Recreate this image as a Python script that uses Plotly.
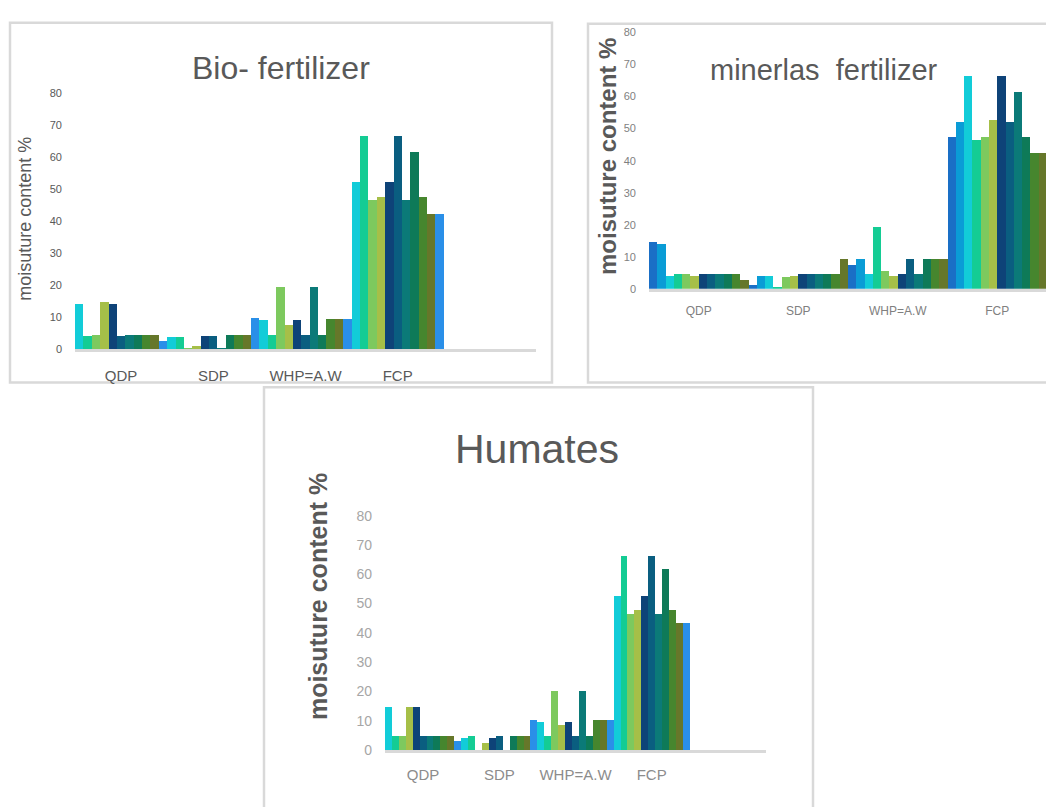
import plotly.graph_objects as go

W, H = 1046, 807

categories = ["QDP", "SDP", "WHP=A.W", "FCP"]

# ---- Bio- fertilizer (11 series) ----
bio_colors = ["#12CCD8", "#14CC94", "#7DC95E", "#A6BF48", "#0E4378", "#0A5E80",
              "#0B7A78", "#0E7A58", "#46862E", "#66772A", "#2A8FE8"]
bio_s1 = [14.4, 4.1, 9.3, 52.4]
bio_s2 = [4.3, 4.1, 4.7, 67.0]
bio_s3 = [4.7, 0.5, 19.8, 46.8]
bio_s4 = [14.9, 1.3, 7.8, 47.8]
bio_s5 = [14.4, 4.2, 9.3, 52.4]
bio_s6 = [4.3, 4.2, 4.7, 67.0]
bio_s7 = [4.7, 0.5, 19.8, 46.8]
bio_s8 = [4.7, 4.7, 4.7, 62.0]
bio_s9 = [4.7, 4.7, 9.6, 47.8]
bio_s10 = [4.7, 4.7, 9.6, 42.6]
bio_s11 = [2.9, 10.0, 9.6, 42.6]
bio_series = [bio_s1, bio_s2, bio_s3, bio_s4, bio_s5, bio_s6, bio_s7, bio_s8, bio_s9, bio_s10, bio_s11]

# ---- minerlas fertilizer (12 series) ----
min_colors = ["#1A6FC6", "#0A9CD6", "#12CCD8", "#14CC94", "#7DC95E", "#A6BF48",
              "#0E4378", "#0A5E80", "#0B7A78", "#0E7A58", "#46862E", "#66772A"]
min_s1 = [14.8, 1.5, 7.5, 47.4]
min_s2 = [14.3, 4.3, 9.6, 52.2]
min_s3 = [4.3, 4.3, 4.7, 66.5]
min_s4 = [4.7, 0.7, 19.4, 46.6]
min_s5 = [4.7, 3.8, 5.6, 47.4]
min_s6 = [4.3, 4.3, 4.3, 52.7]
min_s7 = [4.7, 4.7, 4.7, 66.5]
min_s8 = [4.7, 4.7, 9.6, 52.2]
min_s9 = [4.7, 4.7, 4.7, 61.7]
min_s10 = [4.7, 4.7, 9.6, 47.4]
min_s11 = [4.7, 4.7, 9.6, 42.7]
min_s12 = [2.8, 9.6, 9.6, 42.7]
min_series = [min_s1, min_s2, min_s3, min_s4, min_s5, min_s6, min_s7, min_s8,
              min_s9, min_s10, min_s11, min_s12]

# ---- Humates (11 series) ----
hum_colors = bio_colors
hum_s1 = [14.9, 4.3, 9.8, 52.7]
hum_s2 = [5.0, 5.0, 5.0, 66.5]
hum_s3 = [5.0, 0.0, 20.2, 46.7]
hum_s4 = [14.9, 2.4, 8.5, 48.0]
hum_s5 = [14.9, 4.3, 9.8, 52.7]
hum_s6 = [5.0, 5.0, 5.0, 66.5]
hum_s7 = [5.0, 0.0, 20.2, 46.7]
hum_s8 = [5.0, 5.0, 5.0, 62.0]
hum_s9 = [5.0, 5.0, 10.4, 48.0]
hum_s10 = [5.0, 5.0, 10.4, 43.6]
hum_s11 = [3.0, 10.4, 10.4, 43.6]
hum_series = [hum_s1, hum_s2, hum_s3, hum_s4, hum_s5, hum_s6, hum_s7, hum_s8,
              hum_s9, hum_s10, hum_s11]

y_ticks = [0, 10, 20, 30, 40, 50, 60, 70, 80]
FONT = "Liberation Sans, Arial, sans-serif"

fig = go.Figure()

def add_panel(series, colors, axis_suffix, prefix):
    for i, (vals, col) in enumerate(zip(series, colors)):
        fig.add_trace(go.Bar(
            x=categories, y=vals, name=f"{prefix} {i + 1}",
            marker=dict(color=col, line=dict(width=0)),
            xaxis="x" + axis_suffix, yaxis="y" + axis_suffix,
            showlegend=False,
        ))

add_panel(bio_series, bio_colors, "", "Bio")
add_panel(min_series, min_colors, "2", "Mineral")
add_panel(hum_series, hum_colors, "3", "Humates")

def px_x(v):
    return v / W

def px_y(v):
    return 1 - v / H

def xaxis_cfg(x0, x1, rng, fsize, fcolor, standoff):
    return dict(domain=[px_x(x0), px_x(x1)], range=rng, type="category",
                categoryorder="array", categoryarray=categories,
                showline=True, linecolor="#D9D9D9", linewidth=3,
                showgrid=False, zeroline=False, ticks="", fixedrange=True,
                tickfont=dict(family=FONT, size=fsize, color=fcolor),
                ticklabelstandoff=standoff)

def yaxis_cfg(y0px, y80px, anchor, fsize, fcolor, standoff):
    return dict(domain=[px_y(y0px), px_y(y80px)], range=[0, 80],
                tickvals=y_ticks, showgrid=False, zeroline=False, showline=False,
                ticks="", anchor=anchor, fixedrange=True,
                tickfont=dict(family=FONT, size=fsize, color=fcolor),
                ticklabelstandoff=standoff)

layout = dict(
    width=W, height=H,
    margin=dict(l=0, r=0, t=0, b=0),
    paper_bgcolor="white", plot_bgcolor="rgba(0,0,0,0)",
    barmode="group", bargap=0, bargroupgap=0,
    xaxis=dict(xaxis_cfg(75, 536, [-0.5, 4.5], 15, "#595959", 11), anchor="y"),
    yaxis=yaxis_cfg(348.3, 87.3, "x", 11, "#595959", 12),
    xaxis2=dict(xaxis_cfg(649, 1046, [-0.5, -0.5 + 397 / 99.5], 12, "#808080", 9), anchor="y2"),
    yaxis2=yaxis_cfg(286.5, 25, "x2", 11, "#7F7F7F", 12),
    xaxis3=dict(xaxis_cfg(385, 766, [-0.5, 4.5], 15, "#8C8C8C", 9), anchor="y3"),
    yaxis3=yaxis_cfg(757, 518, "x3", 14, "#A6A6A6", 12),
)
fig.update_layout(**layout)

# panel borders
borders = [(10, 15, 552, 382), (588, 16, 1060, 382), (264, 387, 813, 830)]
for (x0, y0, x1, y1) in borders:
    fig.add_shape(type="rect", xref="paper", yref="paper",
                  x0=px_x(x0), x1=px_x(x1), y0=px_y(y0), y1=px_y(y1),
                  line=dict(color="#D9D9D9", width=2.5), fillcolor="rgba(0,0,0,0)",
                  layer="below")

# titles and axis titles
texts = [
    ("Bio- fertilizer", 281, 61, 32, "#595959", 0),
    ("minerlas  fertilizer", 824, 63, 29, "#595959", 0),
    ("Humates", 537, 450, 41, "#595959", 0),
    ("moisuture content %", 25, 215, 18, "#595959", -90),
    ("<b>moisuture content %</b>", 608, 152, 24, "#595959", -90),
    ("<b>moisuture content %</b>", 318, 601, 25, "#595959", -90),
]
for (t, x, y, s, c, ang) in texts:
    fig.add_annotation(text=t, xref="paper", yref="paper", x=px_x(x), y=px_y(y),
                       xanchor="center", yanchor="middle", showarrow=False,
                       textangle=ang, font=dict(family=FONT, size=s, color=c))

fig.write_html("out.html",
               config={"displayModeBar": False},
               post_script="document.body.style.margin='0';document.body.style.overflow='hidden';")
